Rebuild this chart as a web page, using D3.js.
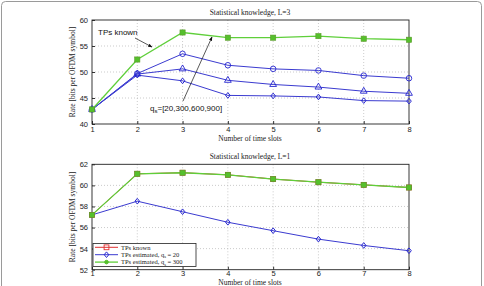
<!DOCTYPE html>
<html>
<head>
<meta charset="utf-8">
<script src="https://cdn.jsdelivr.net/npm/d3@7"></script>
<style>
  body { margin: 0; background: #fff; }
  svg { display: block; }
  .tick text { font-family: "Liberation Sans", Arial, sans-serif; font-size: 7.5px; fill: #222; }
  .ttl { font-family: "Liberation Serif", "Times New Roman", serif; font-size: 7.5px; fill: #222; }
  .leg { font-family: "Liberation Serif", "Times New Roman", serif; font-size: 6.5px; fill: #222; }
</style>
</head>
<body>
<div id="chart"></div>
<script>
// time slots
var slots = [1, 2, 3, 4, 5, 6, 7, 8];

// top panel, L=3
var topKnown = [42.8, 52.4, 57.6, 56.6, 56.6, 56.9, 56.4, 56.2];
var topQ20   = [42.8, 49.7, 53.5, 51.3, 50.6, 50.3, 49.3, 48.8];
var topQ300  = [42.8, 49.6, 50.6, 48.4, 47.6, 47.1, 46.3, 45.9];
var topQ600  = [42.8, 49.4, 48.3, 45.5, 45.4, 45.2, 44.5, 44.4];

// bottom panel, L=1
var botKnown = [57.2, 61.1, 61.2, 61.0, 60.6, 60.3, 60.05, 59.8];
var botQ20   = [57.2, 58.5, 57.5, 56.5, 55.7, 54.9, 54.3, 53.8];
var botQ300  = [57.2, 61.1, 61.2, 61.0, 60.6, 60.3, 60.05, 59.8];

var topTicks = [40, 45, 50, 55, 60];
var botTicks = [52, 54, 56, 58, 60, 62];
var legendLabels = ["TPs known", "TPs estimated, q", "TPs estimated, q"];
var legendSub = ["", "20", "300"];

var width = 484, height = 286;
var svg = d3.select("#chart").append("svg").attr("width", width).attr("height", height);

// grey outer frame
svg.append("rect").attr("x", 1.5).attr("y", 1.5).attr("width", 480).attr("height", 300)
  .attr("rx", 4).attr("fill", "none").attr("stroke", "#9a9a9a");

var x = d3.scaleLinear().domain([1, 8]).range([92, 409]);

function panel(top, bottom, domain, ticks, title, labelGap, pad) {
  var y = d3.scaleLinear().domain(domain).range([bottom, top]);
  var g = svg.append("g");

  // dotted grid
  g.selectAll(".gx").data(slots.slice(1, -1)).enter().append("line")
    .attr("x1", d => x(d)).attr("x2", d => x(d)).attr("y1", top).attr("y2", bottom)
    .attr("stroke", "#b5b5b5").attr("stroke-width", 0.7).attr("stroke-dasharray", "1,2");
  g.selectAll(".gy").data(ticks.slice(1, -1)).enter().append("line")
    .attr("x1", 92).attr("x2", 409).attr("y1", d => y(d)).attr("y2", d => y(d))
    .attr("stroke", "#b5b5b5").attr("stroke-width", 0.7).attr("stroke-dasharray", "1,2");

  var xa = g.append("g").attr("transform", "translate(0," + bottom + ")")
    .call(d3.axisBottom(x).tickValues(slots).tickFormat(d3.format("d")).tickSizeInner(-3).tickSizeOuter(0).tickPadding(pad));
  var ya = g.append("g").attr("transform", "translate(92,0)")
    .call(d3.axisLeft(y).tickValues(ticks).tickSizeInner(-3).tickSizeOuter(0).tickPadding(4));
  [xa, ya].forEach(a => { a.select(".domain").remove(); a.selectAll("line").attr("stroke", "#333"); });

  g.append("rect").attr("x", 92).attr("y", top).attr("width", 317).attr("height", bottom - top)
    .attr("fill", "none").attr("stroke", "#222").attr("stroke-width", 0.9);

  g.append("text").attr("class", "ttl").attr("x", 250).attr("y", top - 5)
    .attr("text-anchor", "middle").text(title);
  g.append("text").attr("class", "ttl").attr("x", 250).attr("y", bottom + labelGap)
    .attr("text-anchor", "middle").text("Number of time slots");
  g.append("text").attr("class", "ttl").attr("text-anchor", "middle")
    .attr("transform", "translate(75," + ((top + bottom) / 2) + ") rotate(-90)")
    .text("Rate [bits per OFDM symbol]");
  return y;
}

function series(y, vals, color, lw, marker) {
  var line = d3.line().x((d, i) => x(slots[i])).y(d => y(d));
  svg.append("path").datum(vals).attr("d", line).attr("fill", "none")
    .attr("stroke", color).attr("stroke-width", lw);
  var m = svg.append("g");
  vals.forEach((v, i) => drawMarker(m, x(slots[i]), y(v), marker));
}

function drawMarker(g, cx, cy, type) {
  if (type === "square") {
    g.append("rect").attr("x", cx - 2.6).attr("y", cy - 2.6).attr("width", 5.2).attr("height", 5.2)
      .attr("fill", "#55c02c").attr("stroke", "#5b9a2a").attr("stroke-width", 0.6);
  } else if (type === "redsquare") {
    g.append("rect").attr("x", cx - 2.4).attr("y", cy - 2.4).attr("width", 4.8).attr("height", 4.8)
      .attr("fill", "none").attr("stroke", "#e03030").attr("stroke-width", 0.9);
  } else if (type === "dot") {
    g.append("circle").attr("cx", cx).attr("cy", cy).attr("r", 1.8)
      .attr("fill", "#55c02c").attr("stroke", "#55c02c");
  } else {
    var sym = type === "circle" ? d3.symbolCircle : type === "triangle" ? d3.symbolTriangle : d3.symbolSquare;
    var size = type === "circle" ? 24 : type === "triangle" ? 20 : 13;
    g.append("path").attr("d", d3.symbol().type(sym).size(size)())
      .attr("transform", "translate(" + cx + "," + cy + ")" + (type === "diamond" ? " scale(0.9,1.1) rotate(45)" : ""))
      .attr("fill", "none").attr("stroke", "#2626d0").attr("stroke-width", 0.9);
  }
}

// top panel
var y1 = panel(20, 124, [40, 60], topTicks, "Statistical knowledge, L=3", 17, 2.5);
series(y1, topQ600, "#3b3bd0", 1, "diamond");
series(y1, topQ300, "#3b3bd0", 1, "triangle");
series(y1, topQ20, "#3b3bd0", 1, "circle");
series(y1, topKnown, "#5fcf3a", 1.3, "square");

// annotations
var defs = svg.append("defs");
defs.append("marker").attr("id", "arr").attr("viewBox", "0 0 10 10").attr("refX", 9).attr("refY", 5)
  .attr("markerWidth", 6).attr("markerHeight", 6).attr("orient", "auto")
  .append("path").attr("d", "M0,1 L10,5 L0,9 Z").attr("fill", "#111");
svg.append("text").attr("x", 98).attr("y", 35).attr("font-family", "Liberation Sans, Arial, sans-serif")
  .attr("font-size", 8).attr("fill", "#111").text("TPs known");
svg.append("line").attr("x1", 135).attr("y1", 38).attr("x2", 152).attr("y2", 47)
  .attr("stroke", "#111").attr("stroke-width", 0.7).attr("marker-end", "url(#arr)");
svg.append("line").attr("x1", 183).attr("y1", 101).attr("x2", 212).attr("y2", 37)
  .attr("stroke", "#111").attr("stroke-width", 0.7).attr("marker-end", "url(#arr)");
var qt = svg.append("text").attr("x", 150).attr("y", 111).attr("font-family", "Liberation Sans, Arial, sans-serif")
  .attr("font-size", 8).attr("fill", "#111");
qt.append("tspan").text("q");
qt.append("tspan").attr("font-size", 6).attr("dy", 2).text("s");
qt.append("tspan").attr("dy", -2).text("=[20,300,600,900]");

// bottom panel
var y2 = panel(164.3, 269.7, [52, 62], botTicks, "Statistical knowledge, L=1", 15.2, 1.2);
series(y2, botQ20, "#3b3bd0", 1, "diamond");
series(y2, botKnown, "#e03030", 1, "redsquare");
series(y2, botQ300, "#5fcf3a", 1.3, "square");

// legend
var lg = svg.append("g");
lg.append("rect").attr("x", 93).attr("y", 243.5).attr("width", 103).attr("height", 23)
  .attr("fill", "#fff").attr("stroke", "#222").attr("stroke-width", 0.8);
var lcolors = ["#e03030", "#3b3bd0", "#5fcf3a"];
var lmarks = ["redsquare", "diamond", "dot"];
legendLabels.forEach(function(lab, i) {
  var ly = 247.3 + i * 7.4;
  lg.append("line").attr("x1", 95).attr("x2", 118).attr("y1", ly).attr("y2", ly)
    .attr("stroke", lcolors[i]).attr("stroke-width", i === 2 ? 1.3 : 1);
  drawMarker(lg, 106.5, ly, lmarks[i]);
  var t = lg.append("text").attr("class", "leg").attr("x", 121).attr("y", ly + 2.2).text(lab);
  if (legendSub[i]) {
    t.append("tspan").attr("font-size", 4.5).attr("dy", 1.2).text("s");
    t.append("tspan").attr("dy", -1.2).text(" = " + legendSub[i]);
  }
});
</script>
</body>
</html>
